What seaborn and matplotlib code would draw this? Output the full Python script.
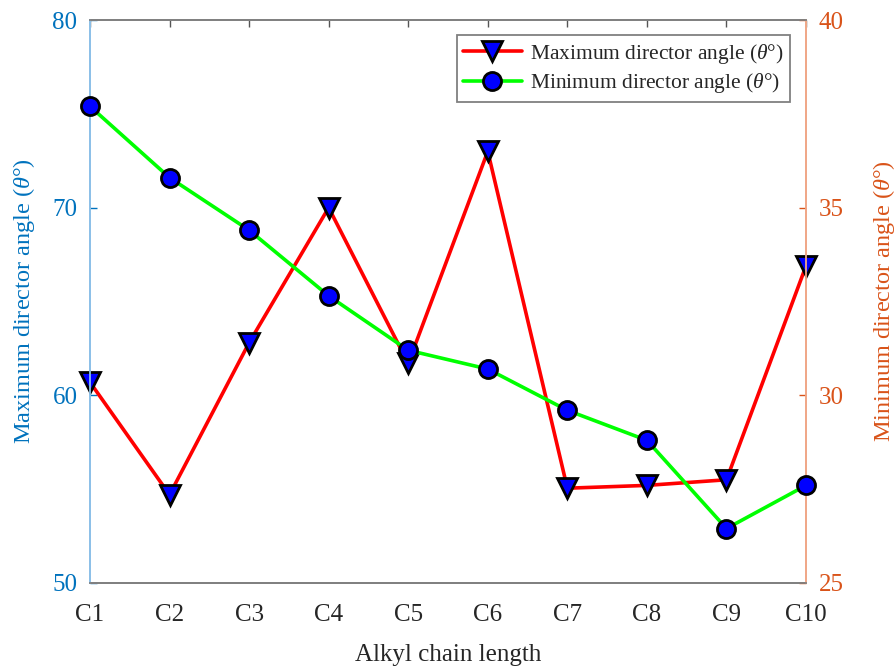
import matplotlib
matplotlib.use("Agg")
import matplotlib.pyplot as plt
import seaborn as sns
import numpy as np
import pandas as pd
from matplotlib.lines import Line2D

# Data
chains = ["C1", "C2", "C3", "C4", "C5", "C6", "C7", "C8", "C9", "C10"]
max_angle = [60.7, 54.7, 62.8, 70.0, 61.7, 73.0, 55.05, 55.2, 55.5, 66.9]
min_angle = [37.7, 35.8, 34.4, 32.65, 31.2, 30.7, 29.6, 28.8, 26.45, 27.6]
left_ticks = [50, 60, 70, 80]
right_ticks = [25, 30, 35, 40]

sns.set_theme(style="white")
plt.rcParams["font.family"] = ["Liberation Serif", "DejaVu Serif"]
plt.rcParams["mathtext.fontset"] = "custom"
plt.rcParams["mathtext.rm"] = "Liberation Serif"
plt.rcParams["mathtext.it"] = "Liberation Serif:italic"

blue = "#0072BD"
orange = "#D95319"
dark = "#262626"

df = pd.DataFrame({"pos": np.arange(len(chains)), "chain": chains,
                   "max": max_angle, "min": min_angle})

fig = plt.figure(figsize=(8.96, 6.69), dpi=100)
ax = fig.add_axes([0.1004, 0.1286, 0.7992, 0.8415])
ax2 = ax.twinx()

sns.lineplot(data=df, x="pos", y="max", ax=ax, color="#FF0000", lw=2.6,
             marker="v", markersize=14, markerfacecolor="#0000FF",
             markeredgecolor="black", markeredgewidth=2.0, clip_on=False,
             zorder=5)
sns.lineplot(data=df, x="pos", y="min", ax=ax2, color="#00FF00", lw=2.6,
             marker="o", markersize=13, markerfacecolor="#0000FF",
             markeredgecolor="black", markeredgewidth=2.0, clip_on=False,
             zorder=5)

ax.set_xlim(0, len(chains) - 1)
ax.set_ylim(50, 80)
ax2.set_ylim(25, 40)
ax.set_xticks(df["pos"])
ax.set_xticklabels(chains)
ax.set_yticks(left_ticks)
ax2.set_yticks(right_ticks)

ax.tick_params(axis="x", direction="in", length=5, width=1, colors="#555555",
               labelcolor=dark, labelsize=18, pad=15, top=True)
ax.tick_params(axis="y", direction="in", length=5, width=1, colors=blue,
               labelcolor=blue, labelsize=18, pad=9)
ax2.tick_params(axis="y", direction="in", length=5, width=1, colors=orange,
                labelcolor=orange, labelsize=18, pad=9)

for a in (ax, ax2):
    a.spines["top"].set_color("#808080")
    a.spines["bottom"].set_color("#808080")
    a.spines["left"].set_color("#8CC0E8")
    a.spines["right"].set_color("#F0A888")
    for s in a.spines.values():
        s.set_linewidth(1.3)

ax.set_xlabel("Alkyl chain length", fontsize=18, color=dark, labelpad=13)
ax.set_ylabel(r"Maximum director angle ($\theta$°)", fontsize=17.5,
              color=blue, labelpad=11)
ax2.set_ylabel(r"Minimum director angle ($\theta$°)", fontsize=17.5,
               color=orange, labelpad=20)

handles = [
    Line2D([], [], color="#FF0000", lw=2.6, marker="v", markersize=14,
           markerfacecolor="#0000FF", markeredgecolor="black",
           markeredgewidth=2.0),
    Line2D([], [], color="#00FF00", lw=2.6, marker="o", markersize=13,
           markerfacecolor="#0000FF", markeredgecolor="black",
           markeredgewidth=2.0),
]
labels = [r"Maximum director angle ($\theta$°)",
          r"Minimum director angle ($\theta$°)"]
if ax.get_legend() is not None:
    ax.get_legend().remove()
if ax2.get_legend() is not None:
    ax2.get_legend().remove()
leg = ax2.legend(handles, labels, loc="upper right",
                 bbox_to_anchor=(0.978, 0.973), borderaxespad=0,
                 fontsize=15.5, frameon=True, fancybox=False,
                 edgecolor="#808080", handlelength=2.7, handletextpad=0.4,
                 borderpad=0.3, labelspacing=0.25, framealpha=1)
leg.get_frame().set_linewidth(1.3)
for t in leg.get_texts():
    t.set_color(dark)

fig.savefig("out.png", dpi=100)
